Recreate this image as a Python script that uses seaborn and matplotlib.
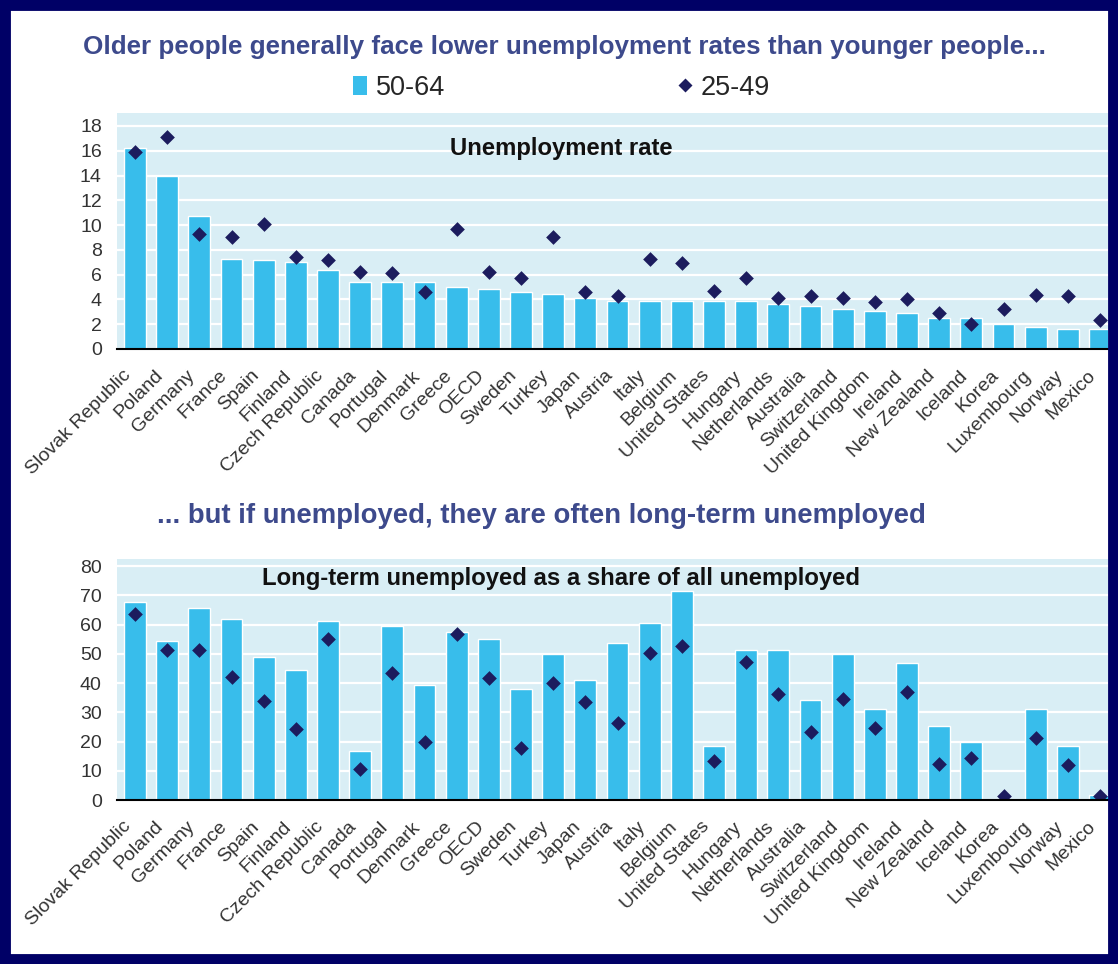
import pandas as pd
import numpy as np
import matplotlib
matplotlib.use('Agg')
import matplotlib.pyplot as plt
import seaborn as sns
from matplotlib.lines import Line2D
from matplotlib.patches import Patch, Rectangle
from matplotlib.transforms import ScaledTranslation

countries = ['Slovak Republic', 'Poland', 'Germany', 'France', 'Spain', 'Finland',
             'Czech Republic', 'Canada', 'Portugal', 'Denmark', 'Greece', 'OECD',
             'Sweden', 'Turkey', 'Japan', 'Austria', 'Italy', 'Belgium',
             'United States', 'Hungary', 'Netherlands', 'Australia', 'Switzerland',
             'United Kingdom', 'Ireland', 'New Zealand', 'Iceland', 'Korea',
             'Luxembourg', 'Norway', 'Mexico']

# Unemployment rate (%)
unemp_50_64 = [16.2, 14.0, 10.7, 7.3, 7.2, 7.0, 6.4, 5.4, 5.4, 5.4, 4.97, 4.87,
               4.57, 4.4, 4.1, 3.9, 3.85, 3.85, 3.85, 3.85, 3.65, 3.5, 3.25,
               3.07, 2.9, 2.5, 2.5, 2.04, 1.75, 1.6, 1.6]
unemp_25_49 = [15.9, 17.1, 9.3, 9.0, 10.1, 7.45, 7.2, 6.2, 6.1, 4.6, 9.7, 6.2,
               5.7, 9.0, 4.57, 4.25, 7.3, 6.9, 4.7, 5.7, 4.1, 4.3, 4.1,
               3.76, 4.03, 2.9, 2.0, 3.2, 4.38, 4.25, 2.3]

# Long-term unemployed as a share of all unemployed (%)
ltu_50_64 = [67.6, 54.4, 65.5, 61.9, 48.8, 44.3, 61.2, 16.8, 59.4, 39.3, 57.3, 54.9,
             38.1, 49.9, 41.1, 53.7, 60.6, 71.3, 18.6, 51.2, 51.2, 34.2, 49.9,
             31.0, 46.7, 25.4, 19.8, 0.0, 31.0, 18.6, 1.7]
ltu_25_49 = [63.5, 51.2, 51.2, 42.1, 34.0, 24.2, 54.9, 10.6, 43.5, 19.8, 56.8, 41.8,
             17.9, 39.9, 33.5, 26.4, 50.1, 52.8, 13.2, 47.3, 36.2, 23.4, 34.4,
             24.5, 37.0, 12.2, 14.4, 1.4, 21.3, 12.0, 1.4]

bar_color = '#38bdeb'
dot_color = '#1c1c5e'
bg_color = '#d9eef5'
title_color = '#3d4a8c'

sns.set_theme(style='white')
plt.rcParams['font.family'] = ['Liberation Sans', 'DejaVu Sans']

fig = plt.figure(figsize=(11.18, 9.64), dpi=100)
fig.patch.set_facecolor('white')
# navy frame around the picture
fig.patches.append(Rectangle((0, 0), 1, 1, transform=fig.transFigure, fill=False,
                             edgecolor='#000066', linewidth=15, zorder=10))

ax1 = fig.add_axes([0.1047, 0.638, 0.8864, 0.2448])
ax2 = fig.add_axes([0.1047, 0.1701, 0.8864, 0.250])


def draw_panel(ax, older, younger, ymax, ystep, label, label_y):
    df = pd.DataFrame({'country': countries, 'older': older, 'younger': younger})
    ax.set_facecolor(bg_color)
    sns.barplot(data=df, x='country', y='older', color=bar_color, width=0.68,
                saturation=1, ax=ax, zorder=2)
    sns.stripplot(data=df, x='country', y='younger', color=dot_color, marker='D',
                  size=7.5, jitter=False, ax=ax, zorder=3)
    ax.set_ylim(0, ymax)
    ax.set_xlim(-0.56, 30.25)
    ax.set_yticks(np.arange(0, ymax, ystep))
    ax.yaxis.grid(True, color='white', linewidth=1.6, zorder=0)
    ax.set_axisbelow(True)
    for s in ['top', 'right', 'left']:
        ax.spines[s].set_visible(False)
    ax.spines['bottom'].set_color('black')
    ax.spines['bottom'].set_linewidth(1.5)
    ax.spines['bottom'].set_zorder(5)
    ax.tick_params(axis='both', length=0)
    ax.tick_params(axis='y', labelsize=14, colors='#333333', pad=11)
    ax.set_xticks(range(len(countries)))
    ax.set_xticklabels(countries, rotation=45, ha='right', rotation_mode='anchor',
                       fontsize=14, color='#333333')
    ax.tick_params(axis='x', pad=13)
    shift = ScaledTranslation(-0.13, 0, fig.dpi_scale_trans)
    for lab in ax.get_xticklabels():
        lab.set_transform(lab.get_transform() + shift)
    ax.set_xlabel('')
    ax.set_ylabel('')
    ax.text(0.448, label_y, label, transform=ax.transAxes, ha='center', va='center',
            fontsize=17.2, fontweight='bold', color='#111111', zorder=6)


draw_panel(ax1, unemp_50_64, unemp_25_49, 19.05, 2, 'Unemployment rate', 0.85)
draw_panel(ax2, ltu_50_64, ltu_25_49, 82.4, 10,
           'Long-term unemployed as a share of all unemployed', 0.92)

fig.text(0.505, 0.951, 'Older people generally face lower unemployment rates than younger people...',
         ha='center', va='center', fontsize=18.7, fontweight='bold', color=title_color)
fig.text(0.484, 0.465, '... but if unemployed, they are often long-term unemployed',
         ha='center', va='center', fontsize=19.8, fontweight='bold', color=title_color)

handles = [Patch(facecolor=bar_color, edgecolor='none', label='50-64'),
           Line2D([0], [0], marker='D', color='none', markerfacecolor=dot_color,
                  markeredgecolor='none', markersize=7, label='25-49')]
fig.legend(handles=handles, loc='center', bbox_to_anchor=(0.502, 0.909), ncol=2,
           frameon=False, fontsize=19.5, handlelength=0.55, handleheight=0.7,
           handletextpad=0.3, columnspacing=8.6)

fig.savefig('out.png', dpi=100, facecolor='white')
